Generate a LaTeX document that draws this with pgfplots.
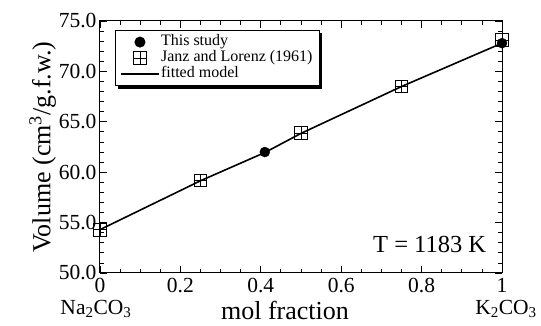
\documentclass[border=0pt]{standalone}
\usepackage{fontspec}
\setmainfont{Liberation Serif}
\usepackage{pgfplots}
\pgfplotsset{compat=1.18}
\pgfdeclareplotmark{boxplus}{%
  \pgfpathrectangle{\pgfpoint{-\pgfplotmarksize}{-\pgfplotmarksize}}{\pgfpoint{2\pgfplotmarksize}{2\pgfplotmarksize}}%
  \pgfpathmoveto{\pgfpoint{-\pgfplotmarksize}{0pt}}\pgfpathlineto{\pgfpoint{\pgfplotmarksize}{0pt}}%
  \pgfpathmoveto{\pgfpoint{0pt}{-\pgfplotmarksize}}\pgfpathlineto{\pgfpoint{0pt}{\pgfplotmarksize}}%
  \pgfusepathqstroke}
\begin{document}
\begin{tikzpicture}
\begin{axis}[
  scale only axis,
  width=402pt, height=252pt,
  xmin=0, xmax=1, ymin=50, ymax=75,
  xtick={0,0.2,0.4,0.6,0.8,1},
  ytick={50,55,60,65,70,75},
  minor x tick num=3,
  minor y tick num=4,
  tick align=inside,
  major tick length=7pt,
  minor tick length=4pt,
  axis line style={line width=1pt},
  every tick/.style={black, line width=0.8pt},
  /pgf/number format/assume math mode=true,
  yticklabel style={/pgf/number format/fixed, /pgf/number format/fixed zerofill, /pgf/number format/precision=1},
  ticklabel style={font=\fontsize{21.5}{21.5}\selectfont},
  xticklabel style={yshift=-2pt},
  xlabel={mol fraction},
  ylabel={Volume (cm\textsuperscript{3}/g.f.w.)},
  label style={font=\fontsize{26}{26}\selectfont},
  xlabel style={yshift=-1pt, xshift=-16pt},
  ylabel style={yshift=-4pt},
  clip=false,
  legend image code/.code={\draw[mark repeat=2,mark phase=2,#1] plot coordinates {(0pt,0pt)(19pt,0pt)(38pt,0pt)};},
  legend style={name=leg, at={(rel axis cs:0.037,0.964)}, anchor=north west,
    font=\fontsize{16}{16}\selectfont, draw=black, line width=1pt, fill=white,
    inner xsep=5pt, inner ysep=3pt, row sep=-1pt,
    nodes={inner sep=1.5pt, text height=10.5pt, text depth=3.5pt},
    cells={anchor=west}},
]
\addplot[black, line width=1.6pt, forget plot] coordinates {(0,54.3) (0.25,59.15) (0.41,61.95) (0.5,63.85) (0.75,68.5) (1,72.8)};
\addplot[only marks, mark=*, mark size=5pt, black] coordinates {(0.41,62.0) (1,72.8)};
\addlegendentry{This study}
\addplot[only marks, mark=boxplus, mark size=6.3pt, black, line width=0.7pt, mark options={fill=white}] coordinates {(0,54.3) (0.25,59.2) (0.5,63.9) (0.75,68.5) (1,73.1)};
\addlegendentry{Janz and Lorenz (1961)}
\addlegendimage{black, line width=1.2pt}
\addlegendentry{fitted model}
\node[font=\fontsize{24.5}{24.5}\selectfont, anchor=center] at (axis cs:0.82,52.8) {T = 1183 K};
\node[font=\fontsize{21.5}{21.5}\selectfont, anchor=north] at ([yshift=-24pt]axis cs:-0.01,50) {Na\textsubscript{2}CO\textsubscript{3}};
\node[font=\fontsize{21.5}{21.5}\selectfont, anchor=north] at ([yshift=-24pt]axis cs:1.01,50) {K\textsubscript{2}CO\textsubscript{3}};
\end{axis}
\draw[black, line width=2.5pt] ([xshift=1.25pt,yshift=-3pt]leg.north east) -- ([xshift=1.25pt,yshift=-1.25pt]leg.south east) -- ([xshift=3pt,yshift=-1.25pt]leg.south west);
\path ([xshift=-100pt,yshift=-53pt]current axis.south west) rectangle ([xshift=39pt,yshift=21pt]current axis.north east);
\end{tikzpicture}
\end{document}
